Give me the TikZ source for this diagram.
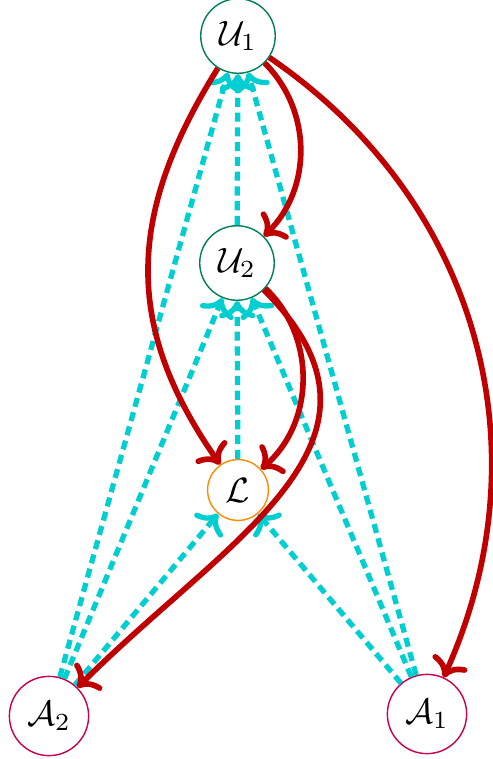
\documentclass[tikz,border=0pt]{standalone}
\usepackage{amsmath}
\definecolor{UserGreen}{RGB}{0,128,90}
\definecolor{LossOrange}{RGB}{255,140,0}
\definecolor{AgentRose}{RGB}{200,0,80}
\definecolor{FlowRed}{RGB}{192,0,0}
\definecolor{GradCyan}{RGB}{0,206,209}
\usetikzlibrary{arrows.meta,positioning}

\begin{document}
\begin{tikzpicture}[x=0.01cm,y=0.01cm,
  unode/.style={circle,draw=UserGreen,fill=white,inner sep=2.7pt},
  lnode/.style={circle,draw=LossOrange,fill=white,inner sep=2.7pt},
  anode/.style={circle,draw=AgentRose,fill=white,inner sep=2.7pt},
  fwd/.style={FlowRed,line width=1.6pt,->},
  back/.style={GradCyan,line width=1.5pt,->,dash pattern=on 2.6pt off 1.6pt}]
\useasboundingbox (0,0) rectangle (493,-759);
% nodes
\node[unode] (u1) at (238,-36) {$\mathcal{U}_1$};
\node[unode] (u2) at (237,-263) {$\mathcal{U}_2$};
\node[lnode] (l) at (238,-490) {$\mathcal{L}$};
\node[anode] (a2) at (49,-716) {$\mathcal{A}_2$};
\node[anode] (a1) at (427,-714) {$\mathcal{A}_1$};
% backward (dashed)
\draw[back] (u2) -- (u1);
\draw[back] (a2) -- (u1);
\draw[back] (a1) -- (u1);
\draw[back] (l) -- (u2);
\draw[back] (a2) -- (u2);
\draw[back] (a1) -- (u2);
\draw[back] (a2) -- (l);
\draw[back] (a1) -- (l);
% forward (solid)
\draw[fwd] (u1) to[bend left=45] (u2);
\draw[fwd] (u1) to[out=-122,in=125,looseness=1.1] (l);
\draw[fwd] (u1) to[bend left=40] (a1);
\draw[fwd] (u2) to[bend left=48] (l);
\draw[fwd] (u2) to[out=-45,in=45,looseness=1.25] (a2);
\end{tikzpicture}
\end{document}
